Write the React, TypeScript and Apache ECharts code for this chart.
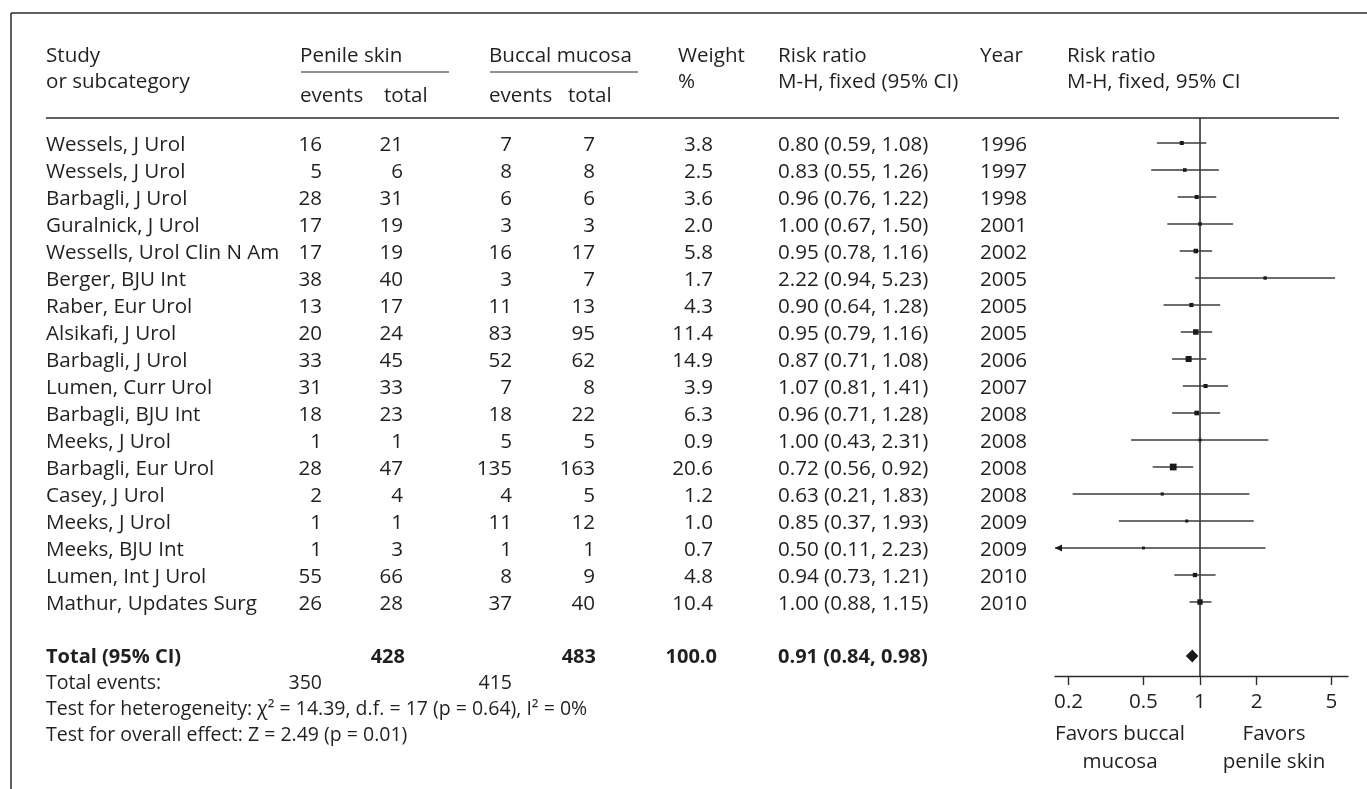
import React, { useEffect, useRef } from 'react';
import * as echarts from 'echarts';

const studies = ['Wessels, J Urol', 'Wessels, J Urol', 'Barbagli, J Urol', 'Guralnick, J Urol', 'Wessells, Urol Clin N Am', 'Berger, BJU Int', 'Raber, Eur Urol', 'Alsikafi, J Urol', 'Barbagli, J Urol', 'Lumen, Curr Urol', 'Barbagli, BJU Int', 'Meeks, J Urol', 'Barbagli, Eur Urol', 'Casey, J Urol', 'Meeks, J Urol', 'Meeks, BJU Int', 'Lumen, Int J Urol', 'Mathur, Updates Surg'];
const penileEvents = [16, 5, 28, 17, 17, 38, 13, 20, 33, 31, 18, 1, 28, 2, 1, 1, 55, 26];
const penileTotal = [21, 6, 31, 19, 19, 40, 17, 24, 45, 33, 23, 1, 47, 4, 1, 3, 66, 28];
const buccalEvents = [7, 8, 6, 3, 16, 3, 11, 83, 52, 7, 18, 5, 135, 4, 11, 1, 8, 37];
const buccalTotal = [7, 8, 6, 3, 17, 7, 13, 95, 62, 8, 22, 5, 163, 5, 12, 1, 9, 40];
const weights = [3.8, 2.5, 3.6, 2.0, 5.8, 1.7, 4.3, 11.4, 14.9, 3.9, 6.3, 0.9, 20.6, 1.2, 1.0, 0.7, 4.8, 10.4];
const riskRatio = [0.80, 0.83, 0.96, 1.00, 0.95, 2.22, 0.90, 0.95, 0.87, 1.07, 0.96, 1.00, 0.72, 0.63, 0.85, 0.50, 0.94, 1.00];
const ciLow = [0.59, 0.55, 0.76, 0.67, 0.78, 0.94, 0.64, 0.79, 0.71, 0.81, 0.71, 0.43, 0.56, 0.21, 0.37, 0.11, 0.73, 0.88];
const ciHigh = [1.08, 1.26, 1.22, 1.50, 1.16, 5.23, 1.28, 1.16, 1.08, 1.41, 1.28, 2.31, 0.92, 1.83, 1.93, 2.23, 1.21, 1.15];
const years = [1996, 1997, 1998, 2001, 2002, 2005, 2005, 2005, 2006, 2007, 2008, 2008, 2008, 2008, 2009, 2009, 2010, 2010];

const totalPenile = 428;
const totalBuccal = 483;
const totalWeight = 100.0;
const totalRR = 0.91;
const totalLow = 0.84;
const totalHigh = 0.98;
const totalEventsPenile = 350;
const totalEventsBuccal = 415;
const heterogeneityText = 'Test for heterogeneity: χ² = 14.39, d.f. = 17 (p = 0.64), I² = 0%';
const overallText = 'Test for overall effect: Z = 2.49 (p = 0.01)';

const axisTicks = [0.2, 0.5, 1, 2, 5];
const axisMinRR = 0.1693;
const axisMaxRR = 6.126;

const FONT = "'Open Sans', 'Noto Sans', sans-serif";
const INK = '#231f20';
const FS = 20.6;
const FS_FOOT = 19.5;

function fmt2(v: number) { return v.toFixed(2); }

export default function App() {
  const ref = useRef<HTMLDivElement>(null);
  useEffect(() => {
    if (!ref.current) return;
    const chart = echarts.init(ref.current, undefined, { renderer: 'svg' });
    const L = Math.log10;
    const axMin = L(axisMinRR);
    const axMax = L(axisMaxRR);
    const rowY = (i: number) => 143 + 27 * i;

    const txt = (x: number, y: number, text: string, align: string, bold = false, fs = FS): any => ({
      type: 'text', x, y, silent: true,
      style: {
        text, fill: INK, fontSize: fs, fontFamily: FONT, fontWeight: bold ? 'bold' : 'normal',
        lineHeight: 22,
        align, textAlign: align, verticalAlign: 'middle', textVerticalAlign: 'middle',
      },
    });
    const ln = (x1: number, y1: number, x2: number, y2: number, stroke: string, lw: number): any => ({
      type: 'line', silent: true, shape: { x1, y1, x2, y2 }, style: { stroke, lineWidth: lw },
    });

    const g: any[] = [];
    g.push(ln(11, 13, 1367, 13, '#2b2b2b', 1.5));
    g.push(ln(11, 13, 11, 789, '#2b2b2b', 1.5));
    const hy1 = 54, hy2 = 80, hy3 = 94;
    g.push(txt(46, hy1, 'Study', 'left'));
    g.push(txt(46, hy2, 'or subcategory', 'left'));
    g.push(txt(300, hy1, 'Penile skin', 'left'));
    g.push(ln(301, 72, 449, 72, '#6d6d6d', 1.5));
    g.push(txt(300, hy3, 'events', 'left'));
    g.push(txt(384, hy3, 'total', 'left'));
    g.push(txt(489, hy1, 'Buccal mucosa', 'left'));
    g.push(ln(490, 72, 638, 72, '#6d6d6d', 1.5));
    g.push(txt(489, hy3, 'events', 'left'));
    g.push(txt(568, hy3, 'total', 'left'));
    g.push(txt(678, hy1, 'Weight', 'left'));
    g.push(txt(678, hy2, '%', 'left'));
    g.push(txt(778, hy1, 'Risk ratio', 'left'));
    g.push(txt(778, hy2, 'M-H, fixed (95% CI)', 'left'));
    g.push(txt(980, hy1, 'Year', 'left'));
    g.push(txt(1067, hy1, 'Risk ratio', 'left'));
    g.push(txt(1067, hy2, 'M-H, fixed, 95% CI', 'left'));
    g.push(ln(46, 118, 1339, 118, '#2b2b2b', 1.5));

    studies.forEach((s, i) => {
      const y = rowY(i);
      g.push(txt(46, y, s, 'left'));
      g.push(txt(322, y, String(penileEvents[i]), 'right'));
      g.push(txt(403, y, String(penileTotal[i]), 'right'));
      g.push(txt(512, y, String(buccalEvents[i]), 'right'));
      g.push(txt(595, y, String(buccalTotal[i]), 'right'));
      g.push(txt(713, y, weights[i].toFixed(1), 'right'));
      g.push(txt(778, y, `${fmt2(riskRatio[i])} (${fmt2(ciLow[i])}, ${fmt2(ciHigh[i])})`, 'left'));
      g.push(txt(980, y, String(years[i]), 'left'));
    });

    const ty = 655;
    g.push(txt(46, ty, 'Total (95% CI)', 'left', true, FS_FOOT + 0.5));
    g.push(txt(405, ty, String(totalPenile), 'right', true, FS_FOOT + 0.5));
    g.push(txt(596, ty, String(totalBuccal), 'right', true, FS_FOOT + 0.5));
    g.push(txt(717, ty, totalWeight.toFixed(1), 'right', true, FS_FOOT + 0.5));
    g.push(txt(778, ty, `${fmt2(totalRR)} (${fmt2(totalLow)}, ${fmt2(totalHigh)})`, 'left', true, FS_FOOT + 0.5));
    g.push(txt(46, 681, 'Total events:', 'left', false, FS_FOOT));
    g.push(txt(322, 681, String(totalEventsPenile), 'right', false, FS_FOOT));
    g.push(txt(512, 681, String(totalEventsBuccal), 'right', false, FS_FOOT));
    g.push(txt(46, 707, heterogeneityText, 'left', false, FS_FOOT));
    g.push(txt(46, 733, overallText, 'left', false, FS_FOOT));

    g.push(txt(1120, 732, 'Favors buccal', 'center'));
    g.push(txt(1120, 760, 'mucosa', 'center'));
    g.push(txt(1274, 732, 'Favors', 'center'));
    g.push(txt(1274, 760, 'penile skin', 'center'));

    const studyData = studies.map((_, i) => [L(riskRatio[i]), i, L(ciLow[i]), L(ciHigh[i]), 2 + 1.05 * Math.sqrt(weights[i])]);

    const option: any = {
      animation: false,
      grid: { left: 1055, right: 1367 - 1348, top: 118, bottom: 789 - 676, containLabel: false },
      xAxis: {
        type: 'value', min: axMin, max: axMax, position: 'bottom',
        axisLine: { show: true, onZero: false, lineStyle: { color: '#2b2b2b', width: 1.4 } },
        axisTick: { show: true, customValues: axisTicks.map(L), length: 9, inside: false, lineStyle: { color: '#2b2b2b', width: 1.4 } },
        axisLabel: {
          show: true, customValues: axisTicks.map(L), margin: 13, color: INK, fontSize: FS, fontFamily: FONT,
          formatter: (v: number) => {
            let best = axisTicks[0];
            axisTicks.forEach(t => { if (Math.abs(L(t) - v) < Math.abs(L(best) - v)) best = t; });
            return String(best);
          },
        },
        splitLine: { show: false },
      },
      yAxis: { type: 'value', inverse: true, min: -25 / 27, max: 533 / 27, show: false },
      graphic: g,
      series: [
        {
          type: 'line', data: [[0, -25 / 27], [0, 533 / 27]], symbol: 'none',
          lineStyle: { color: '#1a1a1a', width: 1.4 }, silent: true, z: 1,
        },
        {
          type: 'custom', data: studyData, z: 3, silent: true,
          renderItem: (params: any, api: any) => {
            const v = api.value(0), i = api.value(1), lo = api.value(2), hi = api.value(3), size = api.value(4);
            const y = api.coord([0, i])[1];
            const xc = api.coord([v, i])[0];
            const x0 = api.coord([Math.max(lo, axMin), i])[0];
            const x1 = api.coord([Math.min(hi, axMax), i])[0];
            const children: any[] = [
              { type: 'line', shape: { x1: x0, y1: y, x2: x1, y2: y }, style: { stroke: '#3d3d3d', lineWidth: 1.5 } },
              { type: 'rect', shape: { x: xc - size / 2, y: y - size / 2, width: size, height: size }, style: { fill: '#1a1a1a' } },
            ];
            if (lo < axMin) {
              children.push({ type: 'polygon', shape: { points: [[x0, y], [x0 + 7, y - 3.5], [x0 + 7, y + 3.5]] }, style: { fill: '#1a1a1a' } });
            }
            return { type: 'group', children };
          },
        },
        {
          type: 'custom', data: [[L(totalRR), 19, L(totalLow), L(totalHigh)]], z: 3, silent: true,
          renderItem: (params: any, api: any) => {
            const i = api.value(1);
            const y = api.coord([0, i])[1];
            const xc = api.coord([api.value(0), i])[0];
            const x0 = api.coord([api.value(2), i])[0];
            const x1 = api.coord([api.value(3), i])[0];
            return {
              type: 'polygon',
              shape: { points: [[x0, y], [xc, y - 6.5], [x1, y], [xc, y + 6.5]] },
              style: { fill: '#1a1a1a' },
            };
          },
        },
      ],
    };
    chart.setOption(option);
    return () => chart.dispose();
  }, []);
  return <div ref={ref} style={{ position: 'fixed', left: 0, top: 0, width: 1367, height: 789 }} />;
}
